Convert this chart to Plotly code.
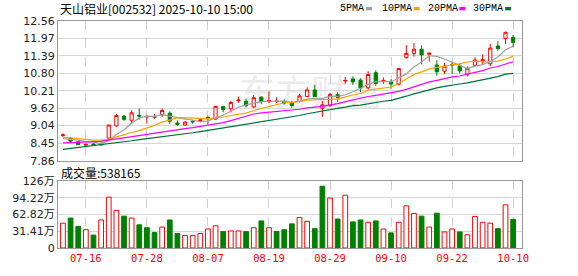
import plotly.graph_objects as go

# ---------------- data ----------------
dates = ["07-11", "07-14", "07-15", "07-16", "07-17", "07-18", "07-21", "07-22", "07-23", "07-24",
         "07-25", "07-28", "07-29", "07-30", "07-31", "08-01", "08-04", "08-05", "08-06", "08-07",
         "08-08", "08-11", "08-12", "08-13", "08-14", "08-15", "08-18", "08-19", "08-20", "08-21",
         "08-22", "08-25", "08-26", "08-27", "08-28", "08-29", "09-01", "09-02", "09-03", "09-04",
         "09-05", "09-08", "09-09", "09-10", "09-11", "09-12", "09-15", "09-16", "09-17", "09-18",
         "09-19", "09-22", "09-23", "09-24", "09-25", "09-26", "09-29", "09-30", "10-09", "10-10"]

open_ = [8.71, 8.62, 8.50, 8.38, 8.42, 8.39, 8.62, 9.03, 9.36, 9.22,
         9.39, 9.33, 9.32, 9.40, 9.46, 9.13, 9.06, 9.19, 9.21, 9.31,
         9.26, 9.68, 9.61, 9.88, 9.86, 9.67, 10.00, 9.86, 9.85, 9.85,
         9.81, 9.85, 10.02, 10.24, 9.62, 9.71, 10.08, 10.54, 10.61, 10.57,
         10.31, 10.82, 10.53, 10.51, 10.43, 11.33, 11.47, 11.61, 11.44, 11.08,
         10.87, 11.10, 11.05, 10.77, 11.07, 11.21, 11.12, 11.72, 11.97, 12.01]
high = [8.78, 8.66, 8.53, 8.43, 8.44, 8.48, 9.07, 9.44, 9.40, 9.56,
        9.62, 9.40, 9.43, 9.62, 9.52, 9.22, 9.19, 9.21, 9.30, 9.37,
        9.70, 9.70, 9.87, 10.02, 9.95, 10.07, 10.01, 10.19, 9.99, 9.92,
        9.87, 10.11, 10.33, 10.42, 9.87, 10.14, 10.16, 10.68, 10.70, 10.63,
        10.87, 10.90, 10.66, 10.60, 10.98, 11.75, 11.82, 11.74, 11.49, 11.24,
        11.15, 11.18, 11.13, 11.03, 11.34, 11.44, 11.79, 11.88, 12.20, 12.09]
low = [8.66, 8.48, 8.38, 8.36, 8.36, 8.37, 8.60, 9.00, 9.20, 9.13,
       9.24, 9.11, 9.27, 9.33, 9.09, 9.03, 9.04, 9.10, 9.15, 9.08,
       9.24, 9.49, 9.48, 9.81, 9.65, 9.63, 9.76, 9.80, 9.80, 9.75,
       9.64, 9.82, 10.00, 10.00, 9.33, 9.66, 9.84, 10.45, 10.41, 10.17,
       10.25, 10.38, 10.44, 10.28, 10.41, 11.29, 11.36, 11.10, 11.20, 10.72,
       10.77, 10.78, 10.80, 10.69, 11.04, 11.09, 11.04, 11.56, 11.79, 11.68]
close = [8.73, 8.52, 8.40, 8.41, 8.39, 8.44, 9.06, 9.38, 9.25, 9.47,
         9.36, 9.35, 9.34, 9.55, 9.19, 9.08, 9.16, 9.17, 9.23, 9.29,
         9.69, 9.58, 9.82, 9.90, 9.71, 9.98, 9.85, 9.88, 9.86, 9.80,
         9.72, 10.04, 10.24, 10.02, 9.74, 10.09, 9.99, 10.56, 10.51, 10.31,
         10.76, 10.46, 10.56, 10.44, 10.96, 11.47, 11.61, 11.42, 11.48, 10.85,
         11.04, 11.08, 10.88, 10.97, 11.25, 11.26, 11.65, 11.63, 12.18, 11.84]

# volume in 万 (ten-thousands)
volume = [46.6, 56.2, 40.5, 34.4, 24.2, 52.6, 95.5, 70.7, 59.8, 56.2,
          43.5, 38.1, 29.0, 39.3, 52.6, 27.2, 23.6, 23.6, 27.2, 35.7,
          41.7, 30.8, 32.0, 32.0, 30.8, 38.1, 50.8, 38.1, 30.8, 34.4,
          45.3, 57.4, 50.2, 36.3, 116.0, 93.7, 54.4, 99.1, 49.0, 52.6,
          48.3, 50.8, 35.7, 28.4, 48.3, 79.2, 64.7, 59.8, 39.3, 65.3,
          30.2, 35.7, 30.2, 24.8, 59.2, 48.3, 46.6, 36.3, 81.0, 53.8165]
last_volume = "538165"

ma5 = [8.60, 8.58, 8.55, 8.50, 8.49, 8.43, 8.54, 8.74, 8.90, 9.12,
       9.30, 9.36, 9.35, 9.41, 9.36, 9.30, 9.26, 9.23, 9.17, 9.19,
       9.31, 9.39, 9.52, 9.66, 9.74, 9.80, 9.85, 9.86, 9.86, 9.87,
       9.82, 9.86, 9.93, 9.96, 9.95, 10.03, 10.02, 10.08, 10.18, 10.29,
       10.43, 10.52, 10.52, 10.51, 10.64, 10.78, 11.01, 11.18, 11.39, 11.37,
       11.28, 11.17, 11.07, 10.96, 11.04, 11.09, 11.20, 11.35, 11.59, 11.71]
ma10 = [8.65, 8.62, 8.59, 8.56, 8.55, 8.55, 8.58, 8.66, 8.74, 8.81,
        8.87, 8.95, 9.05, 9.16, 9.24, 9.30, 9.31, 9.29, 9.29, 9.27,
        9.31, 9.33, 9.38, 9.41, 9.46, 9.55, 9.62, 9.69, 9.76, 9.81,
        9.81, 9.86, 9.90, 9.91, 9.91, 9.92, 9.94, 10.01, 10.07, 10.12,
        10.23, 10.27, 10.30, 10.34, 10.46, 10.60, 10.76, 10.85, 10.95, 11.00,
        11.03, 11.09, 11.12, 11.18, 11.21, 11.18, 11.19, 11.21, 11.28, 11.38]
ma20 = [8.46, 8.47, 8.47, 8.48, 8.49, 8.51, 8.55, 8.59, 8.62, 8.66,
        8.71, 8.75, 8.80, 8.84, 8.87, 8.91, 8.94, 8.97, 9.01, 9.04,
        9.09, 9.14, 9.21, 9.29, 9.35, 9.43, 9.47, 9.49, 9.52, 9.54,
        9.56, 9.59, 9.64, 9.66, 9.69, 9.74, 9.78, 9.85, 9.91, 9.96,
        10.02, 10.06, 10.10, 10.13, 10.19, 10.26, 10.35, 10.43, 10.51, 10.56,
        10.63, 10.68, 10.71, 10.76, 10.83, 10.89, 10.98, 11.03, 11.11, 11.19]
ma30 = [8.24, 8.27, 8.31, 8.34, 8.37, 8.40, 8.44, 8.46, 8.49, 8.53,
        8.57, 8.60, 8.64, 8.67, 8.69, 8.72, 8.76, 8.80, 8.84, 8.88,
        8.93, 8.97, 9.02, 9.06, 9.09, 9.13, 9.17, 9.21, 9.25, 9.29,
        9.33, 9.38, 9.44, 9.49, 9.54, 9.59, 9.62, 9.66, 9.71, 9.73,
        9.78, 9.82, 9.86, 9.89, 9.95, 10.03, 10.11, 10.18, 10.26, 10.31,
        10.36, 10.41, 10.44, 10.48, 10.53, 10.57, 10.63, 10.69, 10.77, 10.80]

ma_names = ["5PMA", "10PMA", "20PMA", "30PMA"]
ma_colors = ["#a0a0a0", "#f5a300", "#ff00ff", "#00703a"]

price_ticks = [7.86, 8.45, 9.04, 9.62, 10.21, 10.80, 11.39, 11.97, 12.56]
price_tick_text = ["7.86", "8.45", "9.04", "9.62", "10.21", "10.80", "11.39", "11.97", "12.56"]
vol_ticks = [0, 31.41, 62.82, 94.23, 125.64]
vol_tick_text = ["0", "31.41万", "62.82万", "94.22万", "126万"]
label_idx = [3, 11, 19, 27, 35, 43, 51, 59]

title_text = "天山铝业[002532] 2025-10-10 15:00"
vol_title = "成交量"
watermark = "东方财富"

# ---------------- figure ----------------
RED = "#ff0000"
GREEN = "#008000"
W, H = 578, 276
ML, MR, MT, MB = 55, 56, 21, 21
PW, PH = W - ML - MR, H - MT - MB

def px_x(px):
    return (px - ML) / PW

def px_y(py):
    return (H - MB - py) / PH

x = list(range(len(dates)))
xr = [-0.65, 60.16]

vol_up = []
for i in range(len(close)):
    if i == 0:
        vol_up.append(close[i] >= open_[i])
    else:
        vol_up.append(close[i] >= close[i - 1])
vol_fill = ["white" if u else GREEN for u in vol_up]
vol_line = [RED if u else GREEN for u in vol_up]

fig = go.Figure()
fig.add_trace(go.Candlestick(
    x=x, open=open_, high=high, low=low, close=close,
    increasing=dict(line=dict(color=RED, width=1), fillcolor="white"),
    decreasing=dict(line=dict(color=GREEN, width=1), fillcolor=GREEN),
    whiskerwidth=0, xaxis="x", yaxis="y", hoverinfo="skip"))
for name, vals, col in zip(ma_names, [ma5, ma10, ma20, ma30], ma_colors):
    fig.add_trace(go.Scatter(x=x, y=vals, mode="lines", name=name,
                             line=dict(color=col, width=1.2), xaxis="x", yaxis="y",
                             hoverinfo="skip"))
fig.add_trace(go.Bar(x=x, y=volume, marker=dict(color=vol_fill, line=dict(color=vol_line, width=1)),
                     width=0.62, xaxis="x2", yaxis="y2", hoverinfo="skip"))

ax_common = dict(showline=True, mirror=True, linecolor="#999999", linewidth=1,
                 zeroline=False, ticks="")
tickvals = [x[i] for i in label_idx]
ticktext = [dates[i] for i in label_idx]

price_top = 1.0
price_bot = px_y(165)
vol_top = px_y(186)

fig.update_layout(
    width=W, height=H, margin=dict(l=ML, r=MR, t=MT, b=MB),
    paper_bgcolor="white", plot_bgcolor="white", showlegend=False,
    boxgap=0.4,
    xaxis=dict(domain=[0, 1], anchor="y", range=xr, tickvals=tickvals, showticklabels=False,
               showgrid=True, gridcolor="#cfcfcf", griddash="dash", gridwidth=1,
               rangeslider=dict(visible=False), **ax_common),
    yaxis=dict(domain=[price_bot, price_top], anchor="x", range=[7.86, 12.56],
               tickvals=price_ticks, ticktext=price_tick_text, showgrid=True,
               gridcolor="#d6d6d6", gridwidth=1,
               tickfont=dict(family="DejaVu Sans", size=11, color="#222222"), **ax_common),
    xaxis2=dict(domain=[0, 1], anchor="y2", range=xr, tickvals=tickvals, ticktext=ticktext,
                showgrid=True, gridcolor="#cfcfcf", griddash="dash", gridwidth=1,
                tickfont=dict(family="DejaVu Sans Mono", size=10.5, color=RED), **ax_common),
    yaxis2=dict(domain=[0, vol_top], anchor="x2", range=[0, 125.64],
                tickvals=vol_ticks, ticktext=vol_tick_text, showgrid=True,
                gridcolor="#d6d6d6", gridwidth=1,
                tickfont=dict(family="DejaVu Sans, Noto Sans CJK SC", size=11, color="#222222"),
                **ax_common),
)

annotations = [
    dict(text=title_text, xref="paper", yref="paper", x=px_x(55), y=px_y(8),
         xanchor="left", yanchor="middle", showarrow=False,
         font=dict(family="Noto Sans CJK SC", size=12, color="#000000")),
    dict(text=vol_title + ":" + last_volume, xref="paper", yref="paper", x=px_x(56), y=px_y(177),
         xanchor="left", yanchor="middle", showarrow=False,
         font=dict(family="Noto Sans CJK SC", size=12, color="#000000")),
]
shapes = []
legend_text_px = [337, 379, 425, 471]
legend_sq_px = [365, 413, 459, 505]
for name, col, tx, sx in zip(ma_names, ma_colors, legend_text_px, legend_sq_px):
    annotations.append(dict(text=name, xref="paper", yref="paper", x=px_x(tx), y=px_y(8),
                            xanchor="left", yanchor="middle", showarrow=False,
                            font=dict(family="Liberation Mono", size=10, color="#000000")))
    shapes.append(dict(type="rect", xref="paper", yref="paper", x0=px_x(sx), x1=px_x(sx + 6),
                       y0=px_y(10), y1=px_y(6.5), fillcolor=col, line=dict(width=0)))

# faint watermark behind the data
shapes.append(dict(type="rect", xref="paper", yref="paper", x0=px_x(235), x1=px_x(385),
                   y0=px_y(120), y1=px_y(76), layer="below", line=dict(width=0),
                   fillcolor="rgba(0,0,0,0)",
                   label=dict(text=watermark, textposition="middle center",
                              font=dict(family="Noto Sans CJK SC", size=36, color="#ececec"))))

fig.update_layout(annotations=annotations, shapes=shapes)
fig.write_html("out.html")
